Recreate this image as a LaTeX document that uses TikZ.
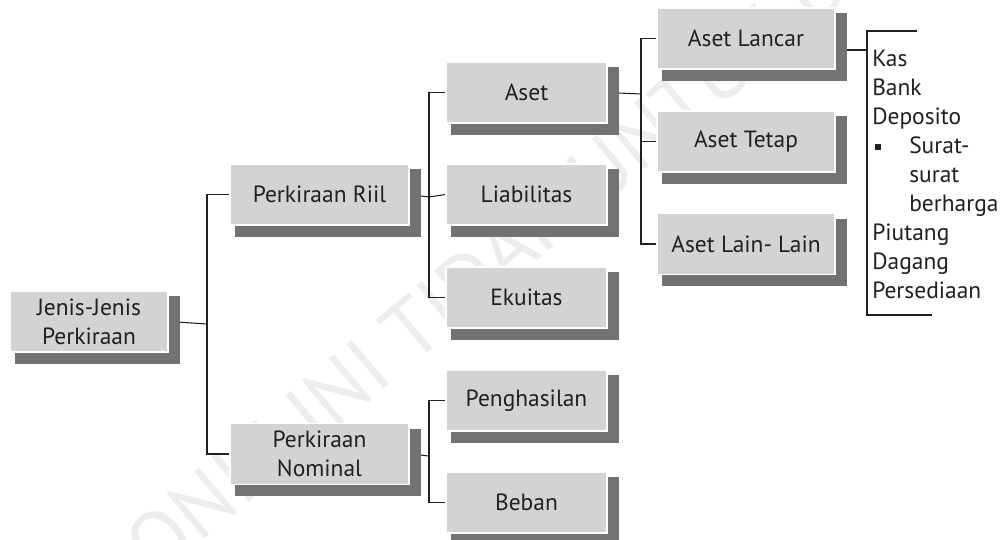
\documentclass[tikz,border=0pt]{standalone}
\usepackage{fontspec}
\setmainfont{PT Sans}
\usetikzlibrary{backgrounds}
\definecolor{abukotak}{HTML}{D1D3D4}
\definecolor{abubayang}{HTML}{737273}
\definecolor{hitam}{HTML}{231F20}

\begin{document}
\begin{tikzpicture}[x=0.75pt, y=-0.75pt,
			 font=\fontsize{17.6}{21.75}\selectfont,
			 kotak/.style={rectangle, fill=abukotak, draw=white, line width=0.8pt, text=hitam, align=center, inner sep=0pt, minimum height=45.75pt},
			 garis/.style={draw=hitam, line width=0.8pt},
			 daftar/.style={align=left, inner sep=0pt, text=hitam},
			 samar/.style={text=black!7, inner sep=0pt, rotate=40, font=\fontsize{62}{66}\selectfont}
  		]
	\useasboundingbox (0,0) rectangle (1002,539);

	%Membuat kotak-kotak
		\node[kotak, minimum width=118.5pt] (jenis) at (89,321.5) {Jenis-Jenis\\Perkiraan};
		\node[kotak, minimum width=134.25pt] (riil) at (319.5,194.5) {Perkiraan Riil};
		\node[kotak, minimum width=134.25pt] (nominal) at (319.5,454) {Perkiraan\\Nominal};
		\node[kotak, minimum width=120.75pt] (aset) at (526.5,92.5) {Aset};
		\node[kotak, minimum width=120.75pt] (liab) at (526.5,194.5) {Liabilitas};
		\node[kotak, minimum width=120.75pt] (ekuitas) at (526.5,297.5) {Ekuitas};
		\node[kotak, minimum width=120.75pt] (hasil) at (526.5,400.5) {Penghasilan};
		\node[kotak, minimum width=120.75pt] (beban) at (526.5,502.5) {Beban};
		\node[kotak, minimum width=133.5pt] (lancar) at (746,38.5) {Aset Lancar};
		\node[kotak, minimum width=133.5pt] (tetap) at (746,141.5) {Aset Tetap};
		\node[kotak, minimum width=133.5pt] (lain) at (746,244) {Aset Lain- Lain};

	%Isi aset lancar
		\node[daftar, anchor=north west] (isi) at (872,50) {Kas\\Bank\\Deposito\\
			\makebox[27.75pt][l]{\hspace*{2.25pt}\rule[2.5pt]{4.5pt}{4.5pt}}Surat-\\
			\hspace*{27.75pt}surat\\\hspace*{27.75pt}berharga\\Piutang\\Dagang\\Persediaan};

	%Titik cabang
		\coordinate (c1) at (207,324);
		\coordinate (c2) at (429,197);
		\coordinate (c3) at (429,456);
		\coordinate (c4) at (641,94);
		\coordinate (c5) at (867,50);
		\coordinate (kt) at (867,31);
		\coordinate (kb) at (867,315);

	\begin{scope}[on background layer]
	%Tulisan samar
		\begin{scope}
			\clip (0,0) rectangle (1002,539);
			\node[samar, anchor=base east] (wm1) at (582,223) {ELEKTRONIK INI TIDAK};
			\node[samar, anchor=base west] (wm2) at (582,223) {\hspace{0.25em}UNTUK DIPERDAGANGKAN};
		\end{scope}
	%Garis Jenis-Jenis Perkiraan
		\draw[garis] (jenis.east) -- (c1);
		\draw[garis] (riil.west) -| (c1) |- (nominal.west);
	%Garis Perkiraan Riil
		\draw[garis] (riil.east) -- (c2) -- (liab.west);
		\draw[garis] (aset.west) -| (c2) |- (ekuitas.west);
	%Garis Perkiraan Nominal
		\draw[garis] (nominal.east) -- (c3);
		\draw[garis] (hasil.west) -| (c3) |- (beban.west);
	%Garis Aset
		\draw[garis] (aset.east) -- (c4);
		\draw[garis] (lancar.west) -| (c4) |- (lain.west);
		\draw[garis] (c4) |- (tetap.west);
	%Garis Aset Lancar
		\draw[garis] (c5 -| lancar.east) -- (c5);
		\draw[garis] (kt) ++(50,0) -- (kt) -- (kb) -- ++(65,0);
	%Bayangan kotak
		\foreach \n in {jenis,riil,nominal,aset,liab,ekuitas,hasil,beban,lancar,tetap,lain}
			\fill[abubayang] ([shift={(6,6)}]\n.north west) rectangle ([shift={(11,11)}]\n.south east);
	\end{scope}

\end{tikzpicture}
\end{document}
